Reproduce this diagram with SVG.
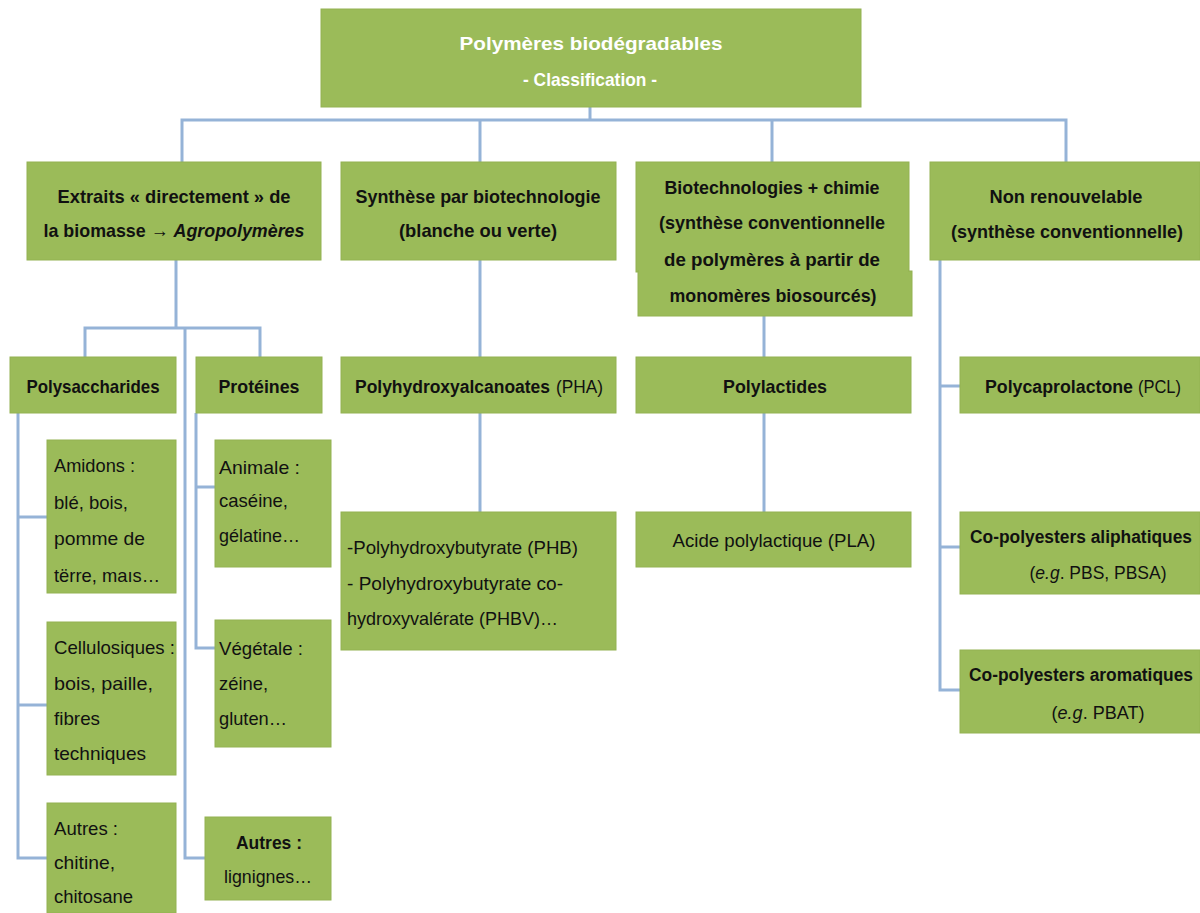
<svg xmlns="http://www.w3.org/2000/svg" width="1200" height="913" viewBox="0 0 1200 913">
<style>
.box{fill:#9bbb59;stroke:#93b253;stroke-width:1}
.t{font-family:"Liberation Sans",Arial,sans-serif;font-size:18.5px;fill:#111}
.s{font-size:17.5px}
.c{text-anchor:middle}
.b{font-weight:bold}
.w{fill:#ffffff;font-weight:bold}
.i{font-style:italic}
.con{fill:none;stroke:#95b3d7;stroke-width:3}
</style>
<rect width="1200" height="913" fill="#ffffff"/>
<g id="connectors">
<path class="con" d="M590,107 V120 M182,162 V120 H1066 V162 M480,120 V162 M772,120 V162"/>
<path class="con" d="M176,260 V328 M85,357 V328 H260 V357 M185,328 V858 H205"/>
<path class="con" d="M18,413 V858 H47 M18,517 H47 M18,705 H47"/>
<path class="con" d="M196,413 V648 H215 M196,487 H215"/>
<path class="con" d="M480,260 V357 M480,413 V512"/>
<path class="con" d="M764,316 V357 M764,413 V512"/>
<path class="con" d="M940,260 V690 H960 M940,386 H960 M940,547 H960"/>
</g>
<g id="root">
<rect class="box" x="321" y="9" width="540" height="98"/>
<text class="t w c" x="591" y="50" font-size="22" textLength="263" lengthAdjust="spacingAndGlyphs">Polymères biodégradables</text>
<text class="t w c" x="590" y="86" font-size="17" textLength="134" lengthAdjust="spacingAndGlyphs">- Classification -</text>
</g>
<g id="extraits">
<rect class="box" x="27" y="162" width="294" height="98"/>
<text class="t b c" x="174" y="203" textLength="233" lengthAdjust="spacingAndGlyphs">Extraits « directement » de</text>
<text class="t b c" x="174" y="237" textLength="261" lengthAdjust="spacingAndGlyphs">la biomasse → <tspan class="i">Agropolymères</tspan></text>
</g>
<g id="synthese">
<rect class="box" x="341" y="162" width="275" height="98"/>
<text class="t b c" x="478" y="203" textLength="245" lengthAdjust="spacingAndGlyphs">Synthèse par biotechnologie</text>
<text class="t b c" x="478" y="237" textLength="158" lengthAdjust="spacingAndGlyphs">(blanche ou verte)</text>
</g>
<g id="biotech">
<rect class="box" x="636" y="162" width="273" height="110"/>
<rect class="box" x="638" y="271" width="274" height="45"/>
<rect x="639" y="262" width="269" height="14" fill="#9bbb59"/>
<text class="t b c" x="772" y="194" textLength="215" lengthAdjust="spacingAndGlyphs">Biotechnologies + chimie</text>
<text class="t b c" x="772" y="229" textLength="226" lengthAdjust="spacingAndGlyphs">(synthèse conventionnelle</text>
<text class="t b c" x="772" y="266" textLength="216" lengthAdjust="spacingAndGlyphs">de polymères  à partir de</text>
<text class="t b c" x="773" y="302" textLength="207" lengthAdjust="spacingAndGlyphs">monomères biosourcés)</text>
</g>
<g id="nonrenouv">
<rect class="box" x="930" y="162" width="270" height="98"/>
<text class="t b c" x="1066" y="203" textLength="153" lengthAdjust="spacingAndGlyphs">Non renouvelable</text>
<text class="t b c s" x="1067" y="238" textLength="232" lengthAdjust="spacingAndGlyphs">(synthèse conventionnelle)</text>
</g>
<g id="polysaccharides">
<rect class="box" x="10" y="357" width="166" height="56"/>
<text class="t b c" x="93" y="393" textLength="133" lengthAdjust="spacingAndGlyphs">Polysaccharides</text>
</g>
<g id="proteines">
<rect class="box" x="196" y="357" width="126" height="56"/>
<text class="t b c" x="259" y="393" textLength="81" lengthAdjust="spacingAndGlyphs">Protéines</text>
</g>
<g id="amidons">
<rect class="box" x="47" y="440" width="129" height="153"/>
<text class="t" x="54" y="472" textLength="81" lengthAdjust="spacingAndGlyphs">Amidons :</text>
<text class="t" x="54" y="509" textLength="74" lengthAdjust="spacingAndGlyphs">blé, bois,</text>
<text class="t" x="54" y="545" textLength="91" lengthAdjust="spacingAndGlyphs">pomme de</text>
<text class="t" x="54" y="582" textLength="106" lengthAdjust="spacingAndGlyphs">tërre, maıs…</text>
</g>
<g id="cellulosiques">
<rect class="box" x="47" y="622" width="129" height="153"/>
<text class="t" x="54" y="654" textLength="121" lengthAdjust="spacingAndGlyphs">Cellulosiques :</text>
<text class="t" x="54" y="690" textLength="99" lengthAdjust="spacingAndGlyphs">bois, paille,</text>
<text class="t" x="54" y="725" textLength="46" lengthAdjust="spacingAndGlyphs">fibres</text>
<text class="t" x="54" y="760" textLength="92" lengthAdjust="spacingAndGlyphs">techniques</text>
</g>
<g id="autres-poly">
<rect class="box" x="47" y="803" width="129" height="110"/>
<text class="t" x="54" y="835" textLength="64" lengthAdjust="spacingAndGlyphs">Autres :</text>
<text class="t" x="54" y="869" textLength="61" lengthAdjust="spacingAndGlyphs">chitine,</text>
<text class="t" x="54" y="903" textLength="79" lengthAdjust="spacingAndGlyphs">chitosane</text>
</g>
<g id="animale">
<rect class="box" x="215" y="440" width="116" height="127"/>
<text class="t" x="219" y="474" textLength="81" lengthAdjust="spacingAndGlyphs">Animale :</text>
<text class="t" x="219" y="507" textLength="69" lengthAdjust="spacingAndGlyphs">caséine,</text>
<text class="t" x="219" y="542" textLength="81" lengthAdjust="spacingAndGlyphs">gélatine…</text>
</g>
<g id="vegetale">
<rect class="box" x="215" y="620" width="116" height="127"/>
<text class="t" x="219" y="655" textLength="84" lengthAdjust="spacingAndGlyphs">Végétale :</text>
<text class="t" x="219" y="690" textLength="49" lengthAdjust="spacingAndGlyphs">zéine,</text>
<text class="t" x="219" y="725" textLength="68" lengthAdjust="spacingAndGlyphs">gluten…</text>
</g>
<g id="autres-prot">
<rect class="box" x="205" y="817" width="126" height="83"/>
<text class="t b c" x="269" y="849" textLength="66" lengthAdjust="spacingAndGlyphs">Autres :</text>
<text class="t c" x="268" y="883" textLength="88" lengthAdjust="spacingAndGlyphs">lignignes…</text>
</g>
<g id="pha">
<rect class="box" x="341" y="357" width="275" height="56"/>
<text class="t b s" x="355" y="393" textLength="195" lengthAdjust="spacingAndGlyphs">Polyhydroxyalcanoates</text>
<text class="t s" x="556" y="393" textLength="47" lengthAdjust="spacingAndGlyphs">(PHA)</text>
</g>
<g id="phb">
<rect class="box" x="341" y="512" width="275" height="138"/>
<text class="t" x="347" y="554" textLength="231" lengthAdjust="spacingAndGlyphs">-Polyhydroxybutyrate (PHB)</text>
<text class="t" x="347" y="590" textLength="216" lengthAdjust="spacingAndGlyphs">- Polyhydroxybutyrate co-</text>
<text class="t" x="347" y="625" textLength="211" lengthAdjust="spacingAndGlyphs">hydroxyvalérate (PHBV)…</text>
</g>
<g id="polylactides">
<rect class="box" x="636" y="357" width="275" height="56"/>
<text class="t b c" x="775" y="393" textLength="104" lengthAdjust="spacingAndGlyphs">Polylactides</text>
</g>
<g id="pla">
<rect class="box" x="636" y="512" width="275" height="55"/>
<text class="t c" x="774" y="547" textLength="203" lengthAdjust="spacingAndGlyphs">Acide polylactique (PLA)</text>
</g>
<g id="pcl">
<rect class="box" x="960" y="357" width="240" height="56"/>
<text class="t b s" x="985" y="393" textLength="148" lengthAdjust="spacingAndGlyphs">Polycaprolactone</text>
<text class="t" x="1138" y="393" font-size="16.5" textLength="43" lengthAdjust="spacingAndGlyphs">(PCL)</text>
</g>
<g id="aliphatiques">
<rect class="box" x="960" y="512" width="240" height="82"/>
<text class="t b c s" x="1081" y="543" textLength="222" lengthAdjust="spacingAndGlyphs">Co-polyesters aliphatiques</text>
<text class="t c" x="1098" y="579" textLength="137" lengthAdjust="spacingAndGlyphs">(<tspan class="i">e.g</tspan>. PBS, PBSA)</text>
</g>
<g id="aromatiques">
<rect class="box" x="960" y="650" width="240" height="83"/>
<text class="t b c s" x="1081" y="681" textLength="224" lengthAdjust="spacingAndGlyphs">Co-polyesters aromatiques</text>
<text class="t c" x="1098" y="719" textLength="93" lengthAdjust="spacingAndGlyphs">(<tspan class="i">e.g</tspan>. PBAT)</text>
</g>
</svg>
